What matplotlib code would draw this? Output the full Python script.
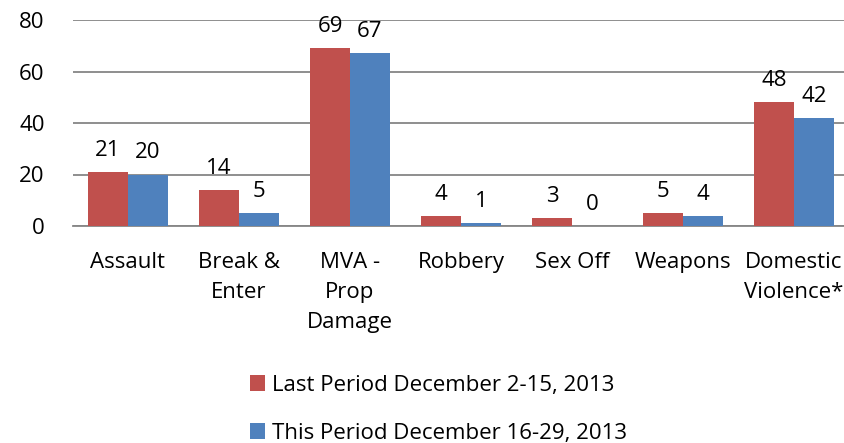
import numpy as np
import matplotlib.pyplot as plt

categories = ['Assault', 'Break &\nEnter', 'MVA -\nProp\nDamage', 'Robbery', 'Sex Off', 'Weapons', 'Domestic\nViolence*']
last_period = [21, 14, 69, 4, 3, 5, 48]
this_period = [20, 5, 67, 1, 0, 4, 42]
series_names = ['Last Period December 2-15, 2013', 'This Period December 16-29, 2013']

red = '#C0504D'
blue = '#4F81BD'

plt.rcParams['font.family'] = ['Open Sans', 'DejaVu Sans']
fs = 16

fig = plt.figure(figsize=(8.44, 4.43), dpi=100)
ax = fig.add_axes([72.5 / 844, (443 - 226) / 443, 777 / 844, 206 / 443])

x = np.arange(len(categories))
w = 0.36
b1 = ax.bar(x - w / 2, last_period, w, color=red, label=series_names[0], zorder=3)
b2 = ax.bar(x + w / 2, this_period, w, color=blue, label=series_names[1], zorder=3)

for bars, vals in [(b1, last_period), (b2, this_period)]:
    for r, v in zip(bars, vals):
        ax.annotate(str(v), (r.get_x() + r.get_width() / 2, v), xytext=(0, 8),
                    textcoords='offset points', ha='center', va='bottom', fontsize=fs)

ax.set_xlim(-0.5, len(categories) - 0.5)
ax.set_ylim(0, 80)
ax.set_yticks([0, 20, 40, 60, 80])
ax.yaxis.grid(True, color='#868686', linewidth=1.3, zorder=0)
for s in ['top', 'right', 'left']:
    ax.spines[s].set_visible(False)
ax.spines['bottom'].set_color('#868686')
ax.spines['bottom'].set_linewidth(1.3)
ax.tick_params(axis='y', length=0, pad=20, labelsize=fs)
ax.tick_params(axis='x', length=0, pad=19, labelsize=fs)
ax.set_xticks(x)
ax.set_xticklabels(categories, linespacing=1.55)

fig.legend(handles=[b1, b2], loc='upper left', bbox_to_anchor=(241 / 844, 1 - 366 / 443),
           frameon=False, fontsize=fs, handlelength=0.7, handleheight=0.7,
           handletextpad=0.3, labelspacing=1.2, borderaxespad=0)

fig.savefig('out.png', dpi=100)
